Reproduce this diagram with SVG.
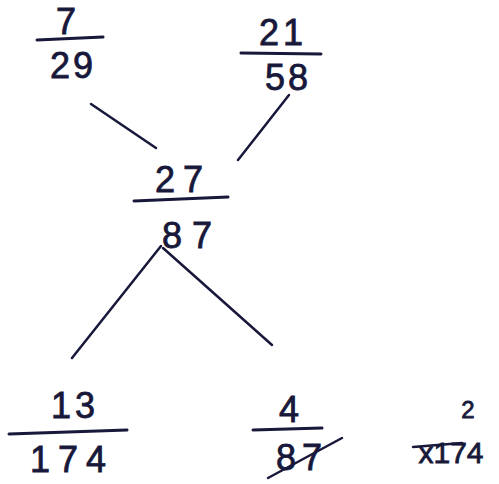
<svg xmlns="http://www.w3.org/2000/svg" width="499" height="484" viewBox="0 0 499 484">
<style>
.t{font-family:"Liberation Sans","DejaVu Sans",sans-serif;font-size:36px;fill:#17183a;stroke:#17183a;stroke-width:0.8;text-anchor:middle}
.s{font-size:24px}
.bar{stroke:#17183a;stroke-width:3;stroke-linecap:round;fill:none}
.c{stroke:#17183a;stroke-width:2.5;stroke-linecap:round;fill:none}
</style>
<rect width="499" height="484" fill="#ffffff"/>
<g id="connectors">
<line class="c" x1="91" y1="104" x2="156" y2="148"/>
<line class="c" x1="289" y1="95" x2="238" y2="160"/>
<line class="c" x1="161" y1="246" x2="72" y2="358"/>
<line class="c" x1="163" y1="248" x2="272" y2="345"/>
</g>
<g id="n1">
<text class="t" x="66" y="34">7</text>
<line class="bar" x1="37" y1="40" x2="103" y2="37"/>
<text class="t" x="73" y="78" style="letter-spacing:3px">29</text>
</g>
<g id="n2">
<text class="t" x="283" y="45" style="letter-spacing:4px">21</text>
<line class="bar" x1="241" y1="53" x2="321" y2="54"/>
<text class="t" x="288" y="90" style="letter-spacing:3px">58</text>
</g>
<g id="n3">
<text class="t" x="183" y="192" style="letter-spacing:8px">27</text>
<line class="bar" x1="134" y1="201" x2="228" y2="197"/>
<text class="t" x="192" y="248" style="letter-spacing:10px">87</text>
</g>
<g id="n4">
<text class="t" x="75" y="418" style="letter-spacing:4px">13</text>
<line class="bar" x1="9" y1="434" x2="127" y2="430"/>
<text class="t" x="72" y="472" style="letter-spacing:8px">174</text>
</g>
<g id="n5">
<text class="t" x="289" y="422">4</text>
<line class="bar" x1="253" y1="430" x2="322" y2="428"/>
<text class="t" x="302" y="470" style="letter-spacing:6px">87</text>
<line class="c" x1="268" y1="478" x2="342" y2="438"/>
</g>
<g id="n6">
<text class="t s" x="468" y="418">2</text>
<text class="t" x="451" y="463" style="font-size:30px">x174</text>
<line class="c" x1="413" y1="447" x2="462" y2="443"/>
</g>
</svg>
